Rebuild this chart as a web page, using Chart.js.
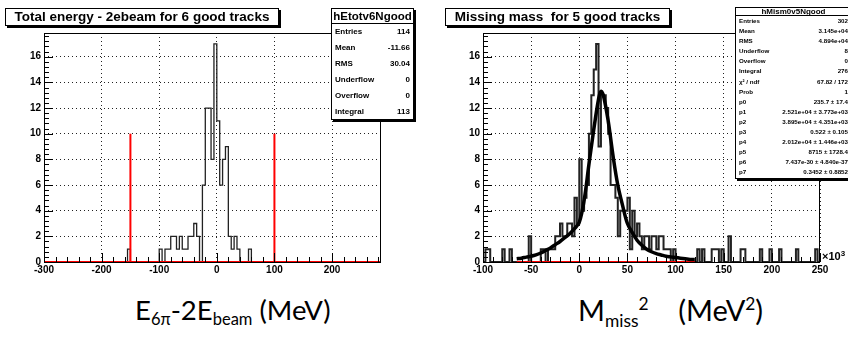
<!DOCTYPE html>
<html>
<head>
<meta charset="utf-8">
<script src="https://cdn.jsdelivr.net/npm/chart.js@4.4.0/dist/chart.umd.min.js"></script>
<style>
  body { margin: 0; width: 848px; height: 340px; position: relative; overflow: hidden; background: #fff;
         font-family: "Liberation Sans", Arial, sans-serif; }
  .pane { position: absolute; top: 0; height: 280px; }
  .title { position: absolute; top: 8px; height: 16px; border: 1px solid #000; box-shadow: 2px 2px 0 #000;
           background: #fff; font-weight: bold; font-size: 13.5px; line-height: 16px; white-space: pre;
           text-align: center; }
  .stats { position: absolute; border: 1px solid #000; box-shadow: 2px 2px 0 #000; background: #fff;
           font-weight: bold; color: #000; }
  .stats .hd { border-bottom: 1px solid #000; text-align: center; white-space: nowrap; }
  .stats .row { display: flex; justify-content: space-between; white-space: nowrap; }
  .cap { position: absolute; top: 290px; font-family: Lato, "Open Sans", sans-serif;
         line-height: 40px; white-space: pre; color: #000; }
  .cap sub { font-size: 0.6em; vertical-align: -0.32em; line-height: 0; }
  .cap sup { font-size: 0.6em; vertical-align: 0.62em; line-height: 0; }
  .e3 { position: absolute; left: 822px; top: 249px; font-size: 11px; font-weight: bold; }
  .e3 sup { font-size: 8px; vertical-align: 4px; }
</style>
</head>
<body>

<div class="pane" style="left:0;width:420px"><canvas id="left" width="420" height="280"></canvas></div>
<div class="pane" style="left:430px;width:418px"><canvas id="right" width="418" height="280"></canvas></div>

<div class="title" style="left:5px;width:272px">Total energy - 2ebeam for 6 good tracks</div>
<div class="title" style="left:445px;width:223px">Missing mass  for 5 good tracks</div>

<div class="stats" id="statsL" style="left:331px;top:8px;width:81px;height:110px"></div>
<div class="stats" id="statsR" style="left:735px;top:7px;width:115px;height:170px"></div>

<div class="e3">×10<sup>3</sup></div>

<div class="cap" style="left:135px;font-size:27.5px">E<sub>6π</sub>-2E<sub>beam</sub> (MeV)</div>
<div class="cap" style="left:578px;font-size:29px">M<sub>miss</sub><sup>2</sup>    (MeV<sup>2</sup>)</div>

<script>
// ---- left: E(6pi) - 2 Ebeam, 5 MeV bins ----
const leftRange = [-300, 285];
const leftBinWidth = 5;
const leftBinLow = [-155, -100, -90, -85, -80, -75, -70, -65, -60, -55, -50, -45, -40, -35,
                    -25, -20, -15, -10, -5, 0, 5, 10, 15, 20, 25, 30, 35, 55];
const leftCounts = [1, 1, 1, 1, 2, 2, 1, 2, 1, 1, 2, 2, 3, 2,
                    6, 12, 12, 8, 17, 11, 6, 8, 9, 2, 1, 2, 1, 1];
const leftXTicks = [-300, -200, -100, 0, 100, 200];
const leftCutX = [-150, 100, 285];
const leftCutTop = [10, 10, 17.85];

// ---- right: missing mass squared (x10^3), 2.5 bins ----
const rightRange = [-100, 250];
const rightBinWidth = 2.5;
const rightBinLow = [-97.5, -95, -80, -72.5, -52.5, -40, -37.5, -32.5, -30, -27.5, -25, -22.5, -20, -17.5,
                     -15, -12.5, -10, -7.5, -5, -2.5, 0, 2.5, 5, 7.5, 10, 12.5, 15, 17.5, 20, 22.5, 25,
                     27.5, 30, 32.5, 35, 37.5, 40, 42.5, 45, 47.5, 50, 52.5, 55, 57.5, 60, 62.5, 65,
                     67.5, 70, 72.5, 75, 77.5, 80, 82.5, 85, 87.5, 90, 92.5, 97.5, 122.5, 127.5, 137.5,
                     140, 142.5, 147.5, 155, 167.5, 170, 187.5, 197.5, 207.5, 225, 245];
const rightCounts = [1, 1, 1, 1, 2, 1, 1, 1, 1, 1, 2, 2, 3, 2,
                     2, 3, 3, 2, 5, 3, 8, 4, 5, 6, 10, 13, 15, 17, 9, 13, 13,
                     12, 10, 6, 6, 5, 2, 4, 4, 4, 5, 1, 4, 2, 3, 2, 1,
                     2, 2, 1, 2, 2, 1, 2, 2, 1, 1, 1, 1, 1, 1, 1,
                     1, 1, 1, 2, 1, 1, 1, 1, 1, 1, 1];
const rightXTicks = [-100, -50, 0, 50, 100, 150, 200, 250];
const fitX = [-65, -60, -55, -50, -45, -40, -35, -30, -25, -20, -15, -10, -5, 0, 5, 10, 15, 20, 22.5,
              25, 30, 35, 40, 45, 50, 55, 60, 65, 70, 75, 80, 85, 90, 95, 100, 105, 110, 115, 120];
const fitY = [0.25, 0.3, 0.38, 0.45, 0.55, 0.7, 0.9, 1.1, 1.35, 1.6, 1.9, 2.2, 2.6, 3.1, 4.8, 7.6, 10.3, 12.7, 13.3,
              13.0, 11.0, 8.3, 6.0, 4.4, 3.0, 2.3, 1.7, 1.3, 1.0, 0.8, 0.65, 0.55, 0.45, 0.4, 0.35, 0.3, 0.25, 0.2, 0.2];
const rightCutX = [250];
const rightCutTop = [17.85];
const rightBaseRed = [-65, 120];

const yMax = 17.85;
const yTicks = [0, 2, 4, 6, 8, 10, 12, 14, 16];

const statsLeft = [['Entries', '114'], ['Mean', '-11.66'], ['RMS', '30.04'],
                   ['Underflow', '0'], ['Overflow', '0'], ['Integral', '113']];
const statsRight = [['Entries', '302'], ['Mean', '3.145e+04'], ['RMS', '4.894e+04'], ['Underflow', '8'],
                    ['Overflow', '0'], ['Integral', '276'], ['χ² / ndf', '67.82 / 172'], ['Prob', '1'],
                    ['p0', '235.7 ± 17.4'], ['p1', '2.521e+04 ± 3.773e+03'], ['p2', '3.895e+04 ± 4.351e+03'],
                    ['p3', '0.522 ± 0.105'], ['p4', '2.012e+04 ± 1.446e+03'], ['p5', '8715 ± 1728.4'],
                    ['p6', '7.437e-30 ± 4.840e-37'], ['p7', '0.3452 ± 0.8852']];

// full bin contents -> outline points (two per bin, so no stepping needed)
function histPoints(range, width, lows, counts) {
  const n = Math.round((range[1] - range[0]) / width);
  const pts = [];
  for (let i = 0; i < n; i++) {
    const lo = range[0] + i * width;
    const k = lows.findIndex(v => Math.abs(v - lo) < 1e-6);
    const c = k >= 0 ? counts[k] : 0;
    pts.push({ x: lo, y: c }, { x: lo + width, y: c });
  }
  return pts;
}

function cutLines(xs, tops) {
  return xs.map((x, i) => ({
    data: [{ x, y: 0 }, { x, y: tops[i] }],
    borderColor: '#ff0000', borderWidth: 2, order: 0,
  }));
}

// ROOT style frame with inward ticks
const rootFrame = {
  id: 'rootFrame',
  afterDatasetsDraw(chart, args, opts) {
    const { ctx, chartArea: a, scales: { x, y } } = chart;
    ctx.save();
    ctx.strokeStyle = '#000';
    ctx.lineWidth = 1;
    ctx.beginPath();
    for (let v = 0, k = 0; v <= yMax + 1e-6; v = +(v + 0.4).toFixed(4), k++) {
      const py = Math.round(y.getPixelForValue(v)) + 0.5;
      const len = k % 5 === 0 ? 9 : 5;
      ctx.moveTo(a.left, py);
      ctx.lineTo(a.left + len, py);
    }
    for (let v = x.min, k = 0; v <= x.max + 1e-6; v += opts.minor, k++) {
      const px = Math.round(x.getPixelForValue(v)) + 0.5;
      const len = k % 5 === 0 ? 9 : 5;
      ctx.moveTo(px, a.bottom);
      ctx.lineTo(px, a.bottom - len);
    }
    ctx.stroke();
    ctx.strokeRect(a.left + 0.5, a.top + 0.5, a.right - a.left - 1, a.bottom - a.top);
    ctx.restore();
  },
};

function makeOptions(range, xTicks, minor, yWidth, padRight, yPad) {
  const tickFont = { family: 'Liberation Sans', weight: 'bold', size: 10 };
  return {
    responsive: false,
    animation: false,
    layout: { padding: { top: 33, right: padRight, left: 0, bottom: 0 } },
    elements: { point: { radius: 0 }, line: { tension: 0 } },
    plugins: { legend: { display: false }, tooltip: { enabled: false }, rootFrame: { minor } },
    scales: {
      x: {
        type: 'linear', min: range[0], max: range[1],
        afterBuildTicks: s => { s.ticks = xTicks.map(v => ({ value: v })); },
        afterFit: s => { s.height = 18; },
        ticks: { font: tickFont, color: '#000', padding: 2, maxRotation: 0, autoSkip: false },
        grid: { drawTicks: false, color: '#222', lineWidth: 1 },
        border: { display: false, dash: [1, 3] },
      },
      y: {
        min: 0, max: yMax,
        afterBuildTicks: s => { s.ticks = yTicks.map(v => ({ value: v })); },
        afterFit: s => { s.width = yWidth; },
        ticks: { font: tickFont, color: '#000', padding: yPad, autoSkip: false },
        grid: { drawTicks: false, color: '#222', lineWidth: 1 },
        border: { display: false, dash: [1, 3] },
      },
    },
  };
}

new Chart(document.getElementById('left'), {
  type: 'line',
  data: {
    datasets: [
      ...cutLines(leftCutX, leftCutTop),
      { data: [{ x: leftRange[0], y: 0 }, { x: leftRange[1], y: 0 }], borderColor: '#ff0000', borderWidth: 2, order: 0 },
      { data: histPoints(leftRange, leftBinWidth, leftBinLow, leftCounts), borderColor: '#222', borderWidth: 1.3, order: 1 },
    ],
  },
  options: makeOptions(leftRange, leftXTicks, 20, 44, 39, 3),
  plugins: [rootFrame],
});

new Chart(document.getElementById('right'), {
  type: 'line',
  data: {
    datasets: [
      { data: fitX.map((x, i) => ({ x, y: fitY[i] })), borderColor: '#000', borderWidth: 3.5, tension: 0.35, order: 0 },
      ...cutLines(rightCutX, rightCutTop),
      { data: rightBaseRed.map(x => ({ x, y: 0 })), borderColor: '#ff0000', borderWidth: 2, order: 1 },
      { data: histPoints(rightRange, rightBinWidth, rightBinLow, rightCounts), borderColor: '#222', borderWidth: 2, order: 2 },
    ],
  },
  options: makeOptions(rightRange, rightXTicks, 10, 53, 28, 3),
  plugins: [rootFrame],
});

// stats boxes
function fillStats(id, name, rows, hdSize, hdH, rowSize, rowH) {
  const box = document.getElementById(id);
  let html = `<div class="hd" style="font-size:${hdSize}px;height:${hdH}px;line-height:${hdH}px">${name}</div>`;
  for (const [k, v] of rows) {
    html += `<div class="row" style="font-size:${rowSize}px;height:${rowH}px;line-height:${rowH}px;padding:0 3px">` +
            `<span>${k}</span><span>${v}</span></div>`;
  }
  box.innerHTML = html;
}
fillStats('statsL', 'hEtotv6Ngood', statsLeft, 11.5, 14, 8, 16);
fillStats('statsR', 'hMism0v5Ngood', statsRight, 8, 7, 6.2, 10.1);
</script>
</body>
</html>
